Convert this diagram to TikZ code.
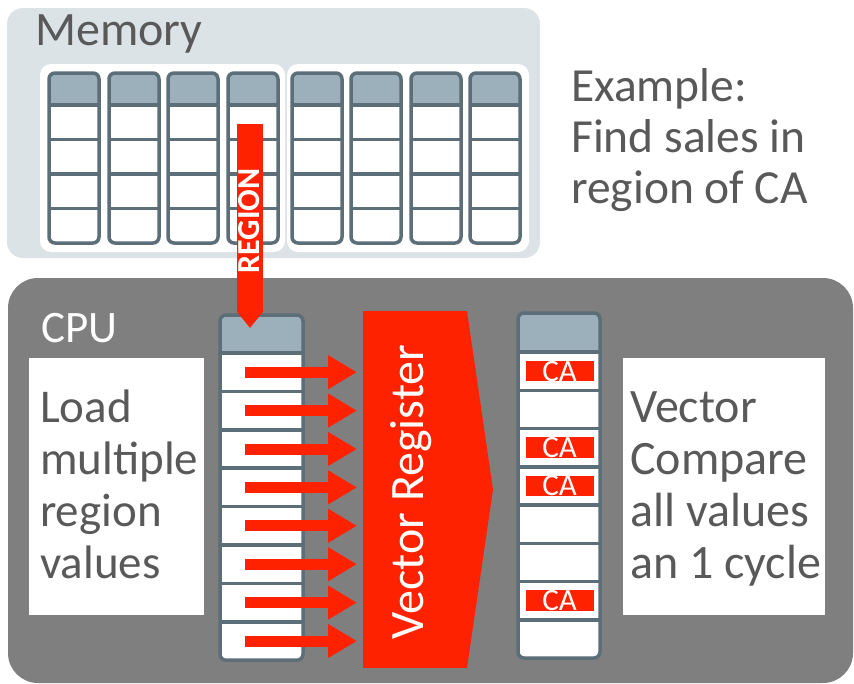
\documentclass[tikz,border=0pt]{standalone}
\usepackage{fontspec}
\setmainfont{Carlito}
\usepackage{graphicx}
\usetikzlibrary{arrows.meta}

\definecolor{membg}{HTML}{DCE3E6}
\definecolor{cpubg}{HTML}{7F7F7F}
\definecolor{hdrfill}{HTML}{9CB0BB}
\definecolor{colline}{HTML}{5C6E77}
\definecolor{hotred}{HTML}{FF2200}
\definecolor{txtgray}{HTML}{595959}

% left-aligned block of lines whose baseline is the first line's baseline
\newcommand\stacklines[1]{\begin{tabular}[t]{@{}l@{}}#1\end{tabular}}

% a storage column: name, left, top, width, header height, rows, row height
\newcommand\cellcolumn[7]{%
  \pgfmathsetmacro\colh{#5+#6*#7}%
  \node[colbody, minimum width=#4pt, minimum height=\colh pt, anchor=north west] (#1) at (#2,#3) {};
  \begin{scope}
    \clip[rounded corners=6pt] (#1.north west) rectangle (#1.south east);
    \fill[hdrfill] (#1.north west) rectangle ([yshift=-#5pt]#1.north east);
  \end{scope}
  \foreach \k in {1,...,#6} {
    \draw[cellsep] ([yshift={-(#5+(\k-1)*#7)*1pt}]#1.north west) -- ([yshift={-(#5+(\k-1)*#7)*1pt}]#1.north east);
  }
  \draw[colframe] (#1.north west) rectangle (#1.south east);
}

\tikzset{
  box/.style={inner sep=0pt, outer sep=0pt, anchor=north west},
  membox/.style={box, fill=membg, rounded corners=16pt},
  groupbox/.style={box, fill=white, rounded corners=11pt},
  cpubox/.style={box, fill=cpubg, rounded corners=30pt},
  notebox/.style={box, fill=white},
  colbody/.style={box, fill=white, rounded corners=6pt},
  colframe/.style={draw=colline, line width=3.5pt, rounded corners=6pt},
  cellsep/.style={draw=colline, line width=3.5pt},
  bigtext/.style={inner sep=0pt, anchor=base west, font=\fontsize{47}{52}\selectfont},
  cabox/.style={fill=hotred, text=white, inner sep=0pt, minimum width=68pt, minimum height=19pt,
    font=\fontsize{31}{31}\selectfont},
  loadarrow/.style={draw=hotred, line width=11pt, -{Triangle[width=32pt,length=29pt]}, shorten >=6pt},
  regionarrow/.style={draw=hotred, line width=26pt, -{Triangle[width=26pt,length=17pt]}},
}

\begin{document}
\begin{tikzpicture}[x=1pt, y=-1pt]
  \useasboundingbox (0,0) rectangle (854,683);
  \fill[white] (0,0) rectangle (854,683);

  % ---- memory ----
  \node[membox, minimum width=533pt, minimum height=250pt] (memory) at (7,8) {};
  \node[bigtext, text=txtgray, font=\fontsize{48}{52}\selectfont] (memlabel) at (35,45) {Memory};
  \node[groupbox, minimum width=245pt, minimum height=188pt] (grpA) at (40,64) {};
  \node[groupbox, minimum width=242pt, minimum height=188pt] (grpB) at (287,64) {};
  \foreach \cx [count=\i] in {49,109,168,228,292,351,411,470} {
    \cellcolumn{mcol\i}{\cx}{73}{50}{32}{4}{34.5}
  }

  \node[bigtext, text=txtgray, font=\fontsize{47.5}{51}\selectfont] (example) at (571,101)
    {\stacklines{Example:\\Find sales in\\region of CA}};

  % ---- cpu ----
  \node[cpubox, minimum width=845pt, minimum height=405pt] (cpu) at (8,278) {};
  \node[bigtext, text=white, font=\fontsize{45}{52}\selectfont] (cpulabel) at (41,342) {CPU};

  \node[notebox, minimum width=175pt, minimum height=257pt] (loadnote) at (29,358) {};
  \node[bigtext, text=txtgray] (loadtext) at (40,422)
    {\stacklines{Load\\multiple\\region\\values}};

  \node[notebox, minimum width=202pt, minimum height=257pt] (cmpnote) at (623,358) {};
  \node[bigtext, text=txtgray, font=\fontsize{48}{52}\selectfont] (cmptext) at (630,422)
    {\stacklines{Vector\\Compare\\all values\\an 1 cycle}};

  \cellcolumn{ldcol}{220}{315}{83}{38}{8}{38.4}
  \cellcolumn{cmpcol}{518}{313}{82}{39}{8}{38.25}

  % matches found by the compare
  \foreach \r in {1,3,4,7} {
    \node[cabox] (ca\r) at (559.5,{352+(\r-0.5)*38.25}) {CA};
  }

  % vector register
  \node[box, fill=hotred, minimum width=104pt, minimum height=357pt] (vreg) at (363,311) {};
  \fill[hotred] (vreg.north east) -- ([xshift=26pt]vreg.east) -- (vreg.south east) -- cycle;
  \node[rotate=90, anchor=base, inner sep=0pt, text=white, font=\fontsize{48}{48}\selectfont]
    (vregtext) at (423,492) {Vector Register};

  % loads into the register
  \foreach \r in {1,...,8} {
    \coordinate (ld\r) at (245,{353+(\r-0.5)*38.4});
    \draw[loadarrow] (ld\r) -- (ld\r -| vreg.west);
  }

  % region column fetched from memory
  \coordinate (regtop) at (250,124);
  \draw[regionarrow, shorten >=-13pt] (regtop) -- (regtop |- ldcol.north);
  \node[rotate=90, anchor=base, inner sep=0pt, text=white, font=\bfseries\fontsize{32}{32}\selectfont]
    (regionlbl) at (259.5,221) {REGION};
\end{tikzpicture}
\end{document}
